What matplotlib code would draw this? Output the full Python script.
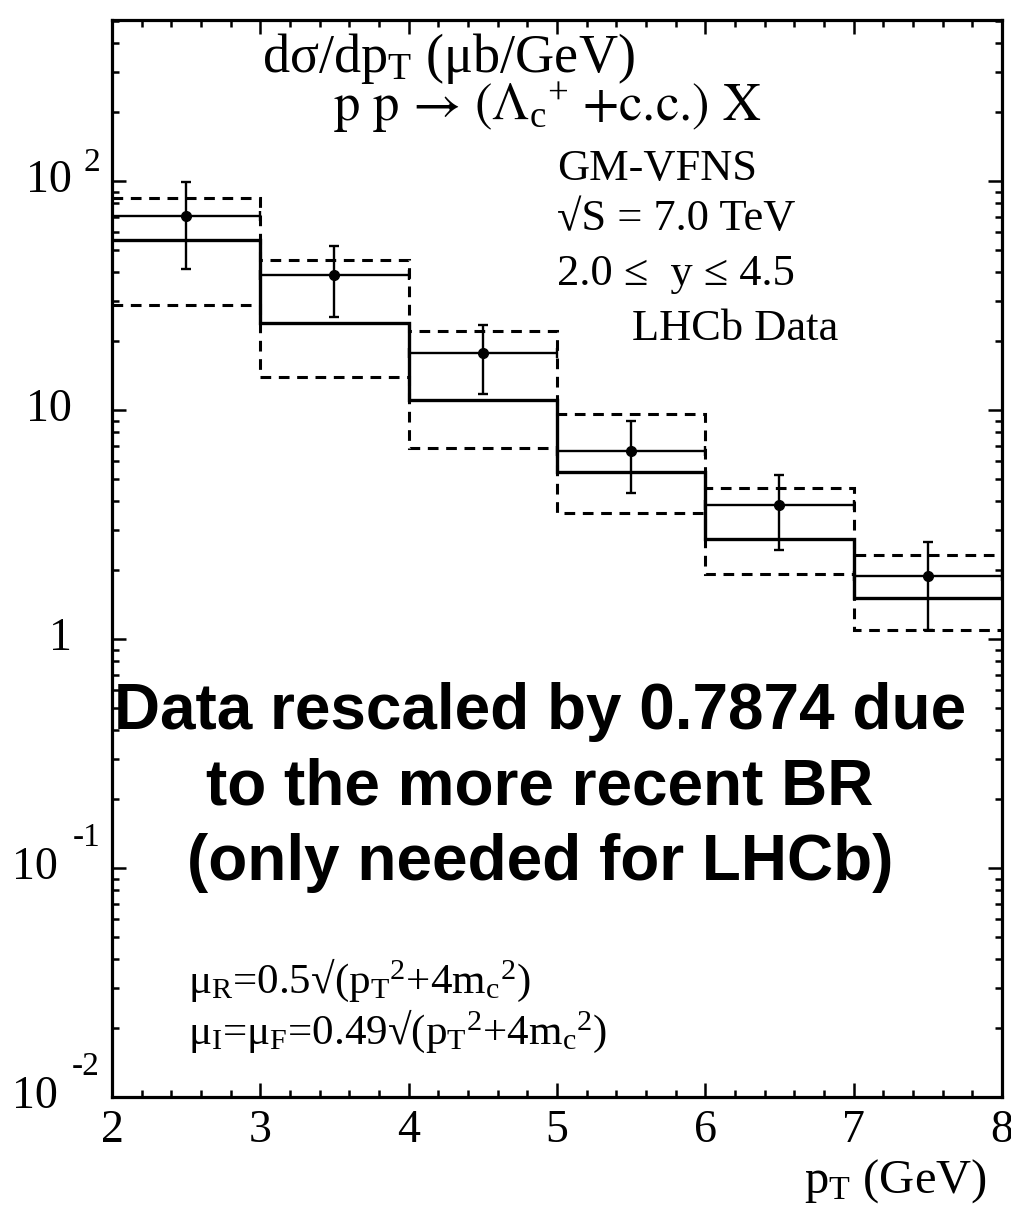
import matplotlib
matplotlib.use("Agg")
import matplotlib.pyplot as plt
from matplotlib.ticker import FixedLocator, NullFormatter, MultipleLocator

plt.rcParams["font.family"] = ["Liberation Serif", "DejaVu Serif"]
plt.rcParams["mathtext.fontset"] = "custom"
plt.rcParams["mathtext.rm"] = "Liberation Serif"
plt.rcParams["mathtext.it"] = "Liberation Serif:italic"
plt.rcParams["mathtext.bf"] = "Liberation Serif:bold"

# pT bins (GeV)
bin_edges = [2, 3, 4, 5, 6, 7, 8]
bin_centers = [2.5, 3.5, 4.5, 5.5, 6.5, 7.5]

# LHCb data (rescaled), micro-barn/GeV
data_val = [70.3, 38.9, 17.7, 6.64, 3.84, 1.88]
data_hi = [99.3, 52.0, 23.6, 8.96, 5.20, 2.66]
data_lo = [41.3, 25.6, 11.8, 4.34, 2.46, 1.10]

# GM-VFNS prediction: central scale and scale-variation band
theory_central = [55.1, 24.0, 11.1, 5.36, 2.74, 1.51]
theory_upper = [84.5, 45.1, 22.1, 9.64, 4.55, 2.33]
theory_lower = [28.9, 13.9, 6.84, 3.54, 1.93, 1.10]

y_ticks = [1e-2, 1e-1, 1, 10, 100]
y_base = ["10", "10", "1", "10", "10"]
y_exp = ["-2", "-1", "", "", "2"]

fig = plt.figure(figsize=(10.12, 12.05), dpi=100)
ax = fig.add_axes([0.1107, 0.0896, 0.8793, 0.8938])
ax.set_yscale("log")
ax.set_xlim(2, 8)
ax.set_ylim(1e-2, 505)

dash = (0, (3.5, 2.5))
ax.stairs(theory_upper, bin_edges, baseline=None, color="k", lw=2.2, ls=dash)
ax.stairs(theory_lower, bin_edges, baseline=None, color="k", lw=2.2, ls=dash)
ax.stairs(theory_central, bin_edges, baseline=None, color="k", lw=2.4)

yerr = [[v - lo for v, lo in zip(data_val, data_lo)],
        [hi - v for v, hi in zip(data_val, data_hi)]]
xerr = [c - e for c, e in zip(bin_centers, bin_edges[:-1])]
ax.errorbar(bin_centers, data_val, yerr=yerr, xerr=xerr, fmt="o", color="k",
            ms=7, lw=1.7, capsize=3.5, capthick=1.7)

# frame and ticks
for sp in ax.spines.values():
    sp.set_linewidth(2.3)
ax.xaxis.set_major_locator(MultipleLocator(1))
ax.xaxis.set_minor_locator(MultipleLocator(0.2))
ax.yaxis.set_major_locator(FixedLocator(y_ticks))
ax.yaxis.set_minor_formatter(NullFormatter())
ax.yaxis.set_major_formatter(NullFormatter())
ax.tick_params(which="both", direction="in", top=True, right=True, width=1.8)
ax.tick_params(which="major", length=10)
ax.tick_params(which="minor", length=5)
ax.tick_params(axis="x", labelsize=33, pad=9)

# y labels written as "10" with a raised exponent
for yv, b, e in zip(y_ticks, y_base, y_exp):
    neg = e.startswith("-")
    ax.annotate(b, xy=(0, yv), xycoords=("axes fraction", "data"),
                xytext=(-54 if neg else -40, 0), textcoords="offset pixels",
                ha="right", va="center", fontsize=33)
    if e:
        ax.annotate(e, xy=(0, yv), xycoords=("axes fraction", "data"),
                    xytext=(-12, 30 if neg else 18), textcoords="offset pixels",
                    ha="right", va="center", fontsize=24)

ax.text(0.983, -0.0883, r"p$_{\mathrm{T}}$ (GeV)", transform=ax.transAxes,
        ha="right", va="baseline", fontsize=35)

# labels inside the frame
ax.text(0.1685, 0.952, r"dσ/dp$_{\mathrm{T}}$ (μb/GeV)", transform=ax.transAxes,
        ha="left", va="baseline", fontsize=39)
ax.text(0.248, 0.906, r"p p → (Λ$_{\mathrm{c}}$$^{+}$ +c.c.) X",
        transform=ax.transAxes, ha="left", va="baseline", fontsize=38,
        family=["STIXGeneral", "DejaVu Serif"])
ax.text(0.500, 0.851, "GM-VFNS", transform=ax.transAxes,
        ha="left", va="baseline", fontsize=32)
ax.text(0.500, 0.805, "√S = 7.0 TeV", transform=ax.transAxes,
        ha="left", va="baseline", fontsize=32)
ax.text(0.500, 0.754, "2.0 ≤  y ≤ 4.5", transform=ax.transAxes,
        ha="left", va="baseline", fontsize=32)
ax.text(0.584, 0.703, "LHCb Data", transform=ax.transAxes,
        ha="left", va="baseline", fontsize=32)

ax.text(0.481, 0.2015, "Data rescaled by 0.7874 due\nto the more recent BR\n(only needed for LHCb)",
        transform=ax.transAxes, ha="center", va="baseline", fontsize=46,
        family=["Liberation Sans", "DejaVu Sans"], weight="bold", linespacing=1.33)

ax.text(0.085, 0.0966, r"μ$_{\mathrm{R}}$=0.5√(p$_{\mathrm{T}}$$^{2}$+4m$_{\mathrm{c}}$$^{2}$)",
        transform=ax.transAxes, ha="left", va="baseline", fontsize=31)
ax.text(0.085, 0.0492, r"μ$_{\mathrm{I}}$=μ$_{\mathrm{F}}$=0.49√(p$_{\mathrm{T}}$$^{2}$+4m$_{\mathrm{c}}$$^{2}$)",
        transform=ax.transAxes, ha="left", va="baseline", fontsize=31)

fig.savefig("out.png", dpi=100)
